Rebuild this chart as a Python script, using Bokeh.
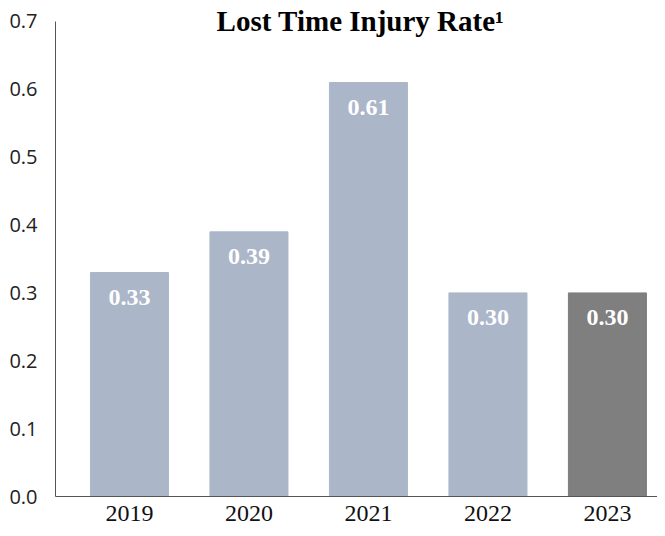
from bokeh.plotting import figure
from bokeh.models import Range1d, FixedTicker, NumeralTickFormatter, ColumnDataSource, Label
from bokeh.core.properties import value
from bokeh.embed import file_html
from bokeh.resources import INLINE

# ---- data ----
years = ["2019", "2020", "2021", "2022", "2023"]
rates = [0.33, 0.39, 0.61, 0.30, 0.30]
bar_colors = ["#ABB6C9", "#ABB6C9", "#ABB6C9", "#ABB6C9", "#7F7F7F"]
y_ticks = [0.0, 0.1, 0.2, 0.3, 0.4, 0.5, 0.6, 0.7]
title_text = "Lost Time Injury Rate\u00b9"

idx = list(range(len(years)))
source = ColumnDataSource(dict(
    x=idx, top=rates, color=bar_colors,
    label=[f"{r:.2f}" for r in rates],
))

p = figure(width=657, height=528, output_backend="svg", toolbar_location=None,
           x_range=Range1d(-0.619, 4.419), y_range=Range1d(0, 0.7235),
           min_border_left=55, min_border_right=0, min_border_top=5,
           min_border_bottom=32)

p.vbar(x="x", top="top", width=0.653, color="color", source=source)
p.text(x="x", y="top", text="label", source=source,
       text_font=value("Liberation Serif"), text_font_style="bold",
       text_font_size="24px", text_color="white",
       text_align="center", text_baseline="middle", y_offset=25)

# x axis
p.xaxis.ticker = FixedTicker(ticks=idx)
p.xaxis.major_label_overrides = {i: y for i, y in zip(idx, years)}
p.xaxis.major_tick_line_color = None
p.xaxis.minor_tick_line_color = None
p.xaxis.major_label_standoff = 3
p.xaxis.axis_line_color = "#555555"
p.xaxis.major_label_text_font = "Liberation Serif"
p.xaxis.major_label_text_font_size = "24px"
p.xaxis.major_label_text_color = "#111111"

# y axis
p.yaxis.ticker = FixedTicker(ticks=y_ticks)
p.yaxis.formatter = NumeralTickFormatter(format="0.0")
p.yaxis.bounds = (y_ticks[0], y_ticks[-1])
p.yaxis.major_tick_line_color = None
p.yaxis.minor_tick_line_color = None
p.yaxis.major_label_standoff = 12
p.yaxis.axis_line_color = "#555555"
p.yaxis.major_label_text_font = "Open Sans"
p.yaxis.major_label_text_font_size = "20px"
p.yaxis.major_label_text_color = "#222222"

p.xgrid.visible = False
p.ygrid.visible = False
p.outline_line_color = None

title = Label(x=2, y=0.7, x_offset=-8, text=title_text,
              text_font="Liberation Serif", text_font_style="bold",
              text_font_size="29px", text_color="#000000",
              text_align="center", text_baseline="middle")
p.add_layout(title)

open("out.html", "w").write(file_html(p, INLINE))
